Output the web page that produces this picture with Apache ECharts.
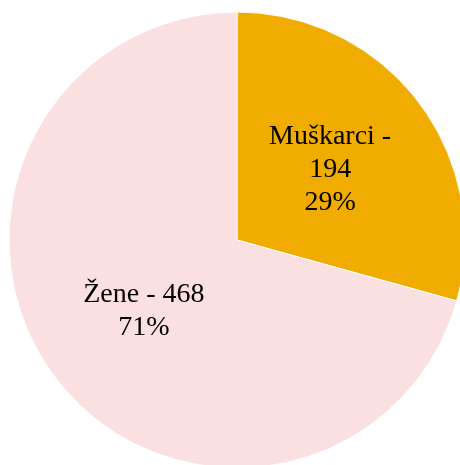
<!DOCTYPE html>
<html>
<head>
<meta charset="utf-8">
<script src="https://cdn.jsdelivr.net/npm/echarts@6/dist/echarts.min.js"></script>
<style>
  html, body { margin: 0; padding: 0; background: #fff; }
  #js-echarts { width: 460px; height: 465px; }
</style>
</head>
<body>
<div id="js-echarts"></div>
<script>
const categories = ['Muškarci', 'Žene'];
const counts = [194, 468];

const theme = {
  orange: '#F0AC00',
  pink: '#FBE0E2',
  text: '#000000'
};

const labelFont = '28px "Liberation Serif"';
const measureCtx = document.createElement('canvas').getContext('2d');
measureCtx.font = labelFont;

const chartDom = document.getElementById('js-echarts');
if(chartDom){
  const chart = echarts.init(chartDom);

  const option = {
    backgroundColor: '#ffffff',
    animation: false,
    series: [
      {
        type: 'pie',
        center: [237, 240],
        radius: [0, 228],
        startAngle: 90,
        clockwise: true,
        color: [theme.orange, theme.pink],
        itemStyle: {
          borderColor: '#ffffff',
          borderWidth: 1
        },
        label: {
          show: true,
          position: 'inside',
          color: theme.text,
          fontFamily: 'Liberation Serif',
          fontSize: 28,
          lineHeight: 33,
          align: 'center',
          formatter: (p) => {
            const full = p.name + ' - ' + p.value;
            // wrap after the dash when the line is too wide (as in the original)
            const first = measureCtx.measureText(full).width > 135
              ? p.name + ' -\n' + p.value
              : full;
            return first + '\n' + Math.round(p.percent) + '%';
          }
        },
        labelLine: { show: false },
        emphasis: { disabled: true },
        data: categories.map((name, i) => ({ name: name, value: counts[i] }))
      }
    ]
  };

  chart.setOption(option);
}
</script>
</body>
</html>
